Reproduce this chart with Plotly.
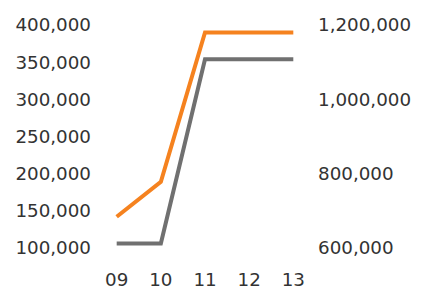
import plotly.graph_objects as go

years = ["09", "10", "11", "12", "13"]
orange_values = [142000, 189000, 390000, 390000, 390000]   # left axis
grey_values = [612000, 612000, 1108000, 1108000, 1108000]  # right axis

left_ticks = [100000, 150000, 200000, 250000, 300000, 350000, 400000]
right_ticks = [600000, 800000, 1000000, 1200000]

fig = go.Figure()
fig.add_trace(go.Scatter(x=list(range(len(years))), y=grey_values, mode="lines",
                         line=dict(color="#707070", width=4), yaxis="y2",
                         showlegend=False, hoverinfo="skip"))
fig.add_trace(go.Scatter(x=list(range(len(years))), y=orange_values, mode="lines",
                         line=dict(color="#F5821F", width=4), yaxis="y",
                         showlegend=False, hoverinfo="skip"))

font = dict(family="DejaVu Sans", size=18.3, color="#333333")
fig.update_layout(
    width=438, height=289,
    margin=dict(l=92, r=136, t=2, b=38),
    paper_bgcolor="white", plot_bgcolor="white",
    font=font,
    xaxis=dict(range=[-0.378, 4.378], tickmode="array",
               tickvals=list(range(len(years))), ticktext=years,
               showgrid=False, zeroline=False, showline=False,
               automargin=False, ticklabelstandoff=8),
    yaxis=dict(range=[85202, 420179], tickvals=left_ticks,
               tickformat=",", showgrid=False, zeroline=False,
               showline=False, automargin=False, ticklabelstandoff=8),
    yaxis2=dict(range=[570404, 1240359], tickvals=right_ticks,
                tickformat=",", overlaying="y", side="right",
                showgrid=False, zeroline=False, showline=False,
                automargin=False, ticklabelstandoff=7),
)
fig.write_html("out.html")
